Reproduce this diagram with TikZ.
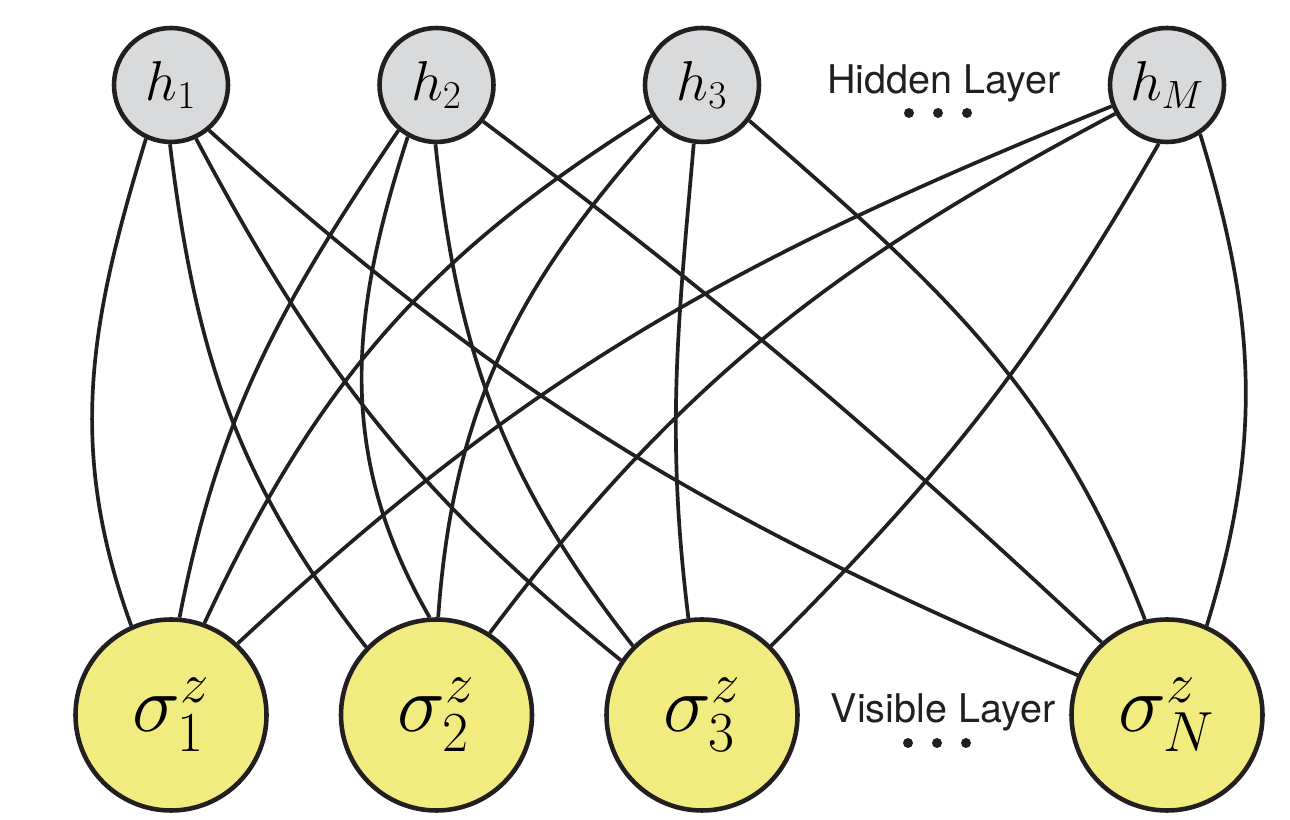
\documentclass[tikz,border=0pt]{standalone}
\usepackage{fix-cm}
\usepackage{fontspec}
\newfontfamily\layerfont{TeX Gyre Heros}
\usepackage{xcolor}
\definecolor{ink}{RGB}{35,31,32}
\definecolor{hgray}{RGB}{217,218,220}
\definecolor{vyellow}{RGB}{242,236,128}
\usetikzlibrary{positioning}

\begin{document}
\begin{tikzpicture}[
  on grid,
  node distance=5.31cm,
  hnode/.style={circle,draw=ink,line width=2.6pt,fill=hgray,minimum size=2.28cm,inner sep=0pt,font=\fontsize{32}{38}\selectfont},
  vnode/.style={circle,draw=ink,line width=2.6pt,fill=vyellow,minimum size=3.82cm,inner sep=0pt,font=\fontsize{46}{54}\selectfont},
  link/.style={ink,line width=2.1pt},
  layer/.style={font=\layerfont\fontsize{22.5}{27}\selectfont,text=ink,inner sep=0pt,anchor=base}
]
  \useasboundingbox (0,0) rectangle (25.8,16.4);

  % Hidden layer
  \node[hnode] (h1) at (3.42,14.7) {$h_1$};
  \node[hnode,right=of h1] (h2) {$h_2$};
  \node[hnode,right=of h2] (h3) {$h_3$};
  \node[hnode,right=9.3cm of h3] (hM) {$h_M$};

  % Visible layer
  \node[vnode,below=12.6cm of h1] (s1) {$\sigma_1^z$};
  \node[vnode,below=12.6cm of h2] (s2) {$\sigma_2^z$};
  \node[vnode,below=12.6cm of h3] (s3) {$\sigma_3^z$};
  \node[vnode,below=12.6cm of hM] (sN) {$\sigma_N^z$};

  % Labels
  \node[layer] (hlab) at (18.88,14.52) {Hidden Layer};
  \node[layer] (vlab) at (18.86,1.94) {Visible Layer};
  \foreach \x in {18.18,18.76,19.34} {
    \fill[ink] (\x,14.14) circle (0.1);
    \fill[ink] (\x-0.02,1.54) circle (0.1);
  }

  % Connections
  \draw[link] (h1.-115) to[out=-107,in=110] (s1.114); \draw[link] (h1.-91) to[out=-83,in=128] (s2.136);
  \draw[link] (h1.-65) to[out=-62,in=141] (s3.146); \draw[link] (h1.-50) to[out=-42,in=157] (sN.156);
  \draw[link] (h2.-130) to[out=-124,in=79] (s1.85); \draw[link] (h2.-119) to[out=-108,in=120] (s2.94);
  \draw[link] (h2.-91) to[out=-84,in=128] (s3.135); \draw[link] (h2.-38) to[out=-37,in=137] (sN.132);
  \draw[link] (h3.-149) to[out=-148,in=65] (s1.70); \draw[link] (h3.-136) to[out=-132,in=86] (s2.89);
  \draw[link] (h3.-98) to[out=-95,in=97] (s3.98); \draw[link] (h3.-37) to[out=-41,in=111] (sN.103);
  \draw[link] (hM.-159) to[out=-158,in=43] (s1.47); \draw[link] (hM.-151) to[out=-152,in=53] (s2.57);
  \draw[link] (hM.-98) to[out=-120,in=45] (s3.45); \draw[link] (hM.-56) to[out=-73,in=73] (sN.66);
\end{tikzpicture}
\end{document}
